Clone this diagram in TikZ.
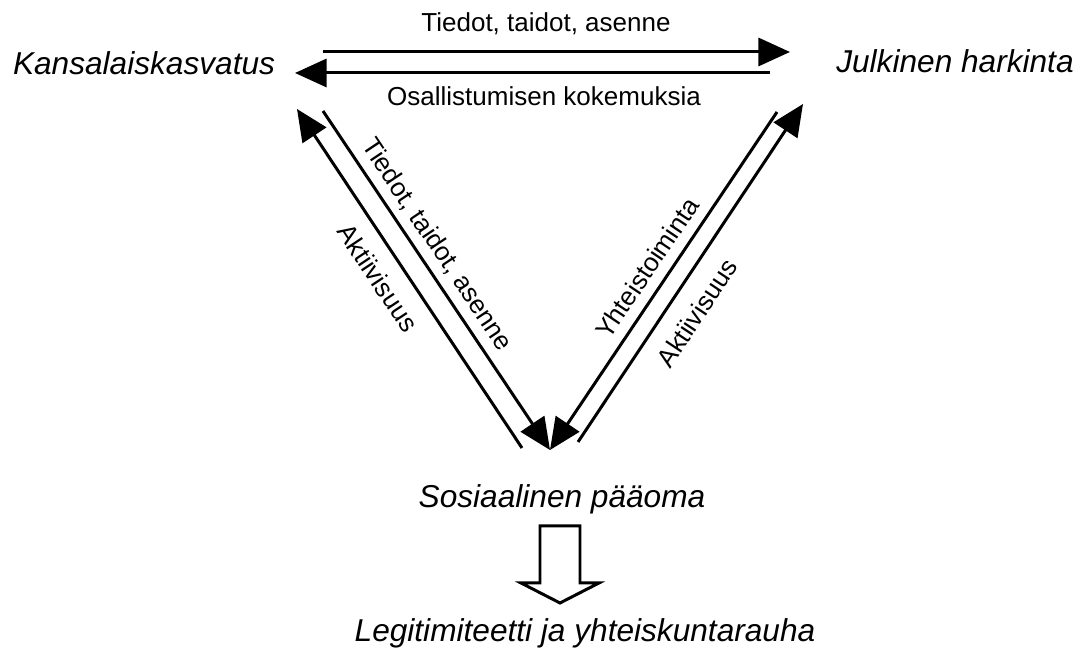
\documentclass[tikz,border=0pt]{standalone}
\usepackage{fontspec}
\setmainfont{Liberation Sans}
\usetikzlibrary{arrows.meta}

\begin{document}
\begin{tikzpicture}[
        nuoli/.style={-{Triangle[length=9pt, width=8pt]}, line width=0.85pt},
        kasite/.style={font=\fontsize{9}{11}\selectfont\itshape, inner sep=0pt},
        selite/.style={font=\fontsize{7.4}{9}\selectfont, inner sep=0pt}
    ]
        \useasboundingbox (0,0) rectangle (10.79,6.5);

        % Käsitteet
        \node[kasite, anchor=base] (kasvatus) at (1.44,5.75) {Kansalaiskasvatus};
        \node[kasite, anchor=base] (harkinta) at (9.55,5.77) {Julkinen harkinta};
        \node[kasite, anchor=base] (paaoma) at (5.62,1.42) {Sosiaalinen pääoma};
        \node[kasite, anchor=base] (rauha) at (5.85,0.08) {Legitimiteetti ja yhteiskuntarauha};

        % Nuolten päätepisteet
        \coordinate (ylaA) at (3.23,5.98);  \coordinate (ylaB) at (7.90,5.98);
        \coordinate (alaA) at (7.70,5.77);  \coordinate (alaB) at (2.95,5.77);
        \coordinate (vasA) at (5.22,2.02);  \coordinate (vasB) at (2.97,5.41);
        \coordinate (vasC) at (3.23,5.39);  \coordinate (vasD) at (5.50,2.00);
        \coordinate (oikA) at (7.77,5.38);  \coordinate (oikB) at (5.50,2.00);
        \coordinate (oikC) at (5.78,2.08);  \coordinate (oikD) at (8.03,5.46);

        % Kansalaiskasvatus <-> Julkinen harkinta
        \draw[nuoli] (ylaA) -- (ylaB);
        \node[selite, anchor=base] (tiedot1) at (5.46,6.18) {Tiedot, taidot, asenne};
        \draw[nuoli] (alaA) -- (alaB);
        \node[selite, anchor=base] (kokemus) at (5.44,5.44) {Osallistumisen kokemuksia};

        % Kansalaiskasvatus <-> Sosiaalinen pääoma
        \draw[nuoli] (vasA) -- (vasB);
        \node[selite, rotate=-56.4] (aktiiv1) at (3.78,3.72) {Aktiivisuus};
        \draw[nuoli] (vasC) -- (vasD);
        \node[selite, rotate=-56.2] (tiedot2) at (4.37,4.05) {Tiedot, taidot, asenne};

        % Julkinen harkinta <-> Sosiaalinen pääoma
        \draw[nuoli] (oikA) -- (oikB);
        \node[selite, rotate=56.1] (yhteis) at (6.47,3.82) {Yhteistoiminta};
        \draw[nuoli] (oikC) -- (oikD);
        \node[selite, rotate=56.4] (aktiiv2) at (6.97,3.37) {Aktiivisuus};

        % Sosiaalinen pääoma -> Legitimiteetti
        \draw[line width=0.85pt, line join=miter] (5.40,1.24) -- (5.40,0.67) -- (5.21,0.67) -- (5.60,0.47)
            -- (5.99,0.67) -- (5.80,0.67) -- (5.80,1.24) -- cycle;
    \end{tikzpicture}
\end{document}
